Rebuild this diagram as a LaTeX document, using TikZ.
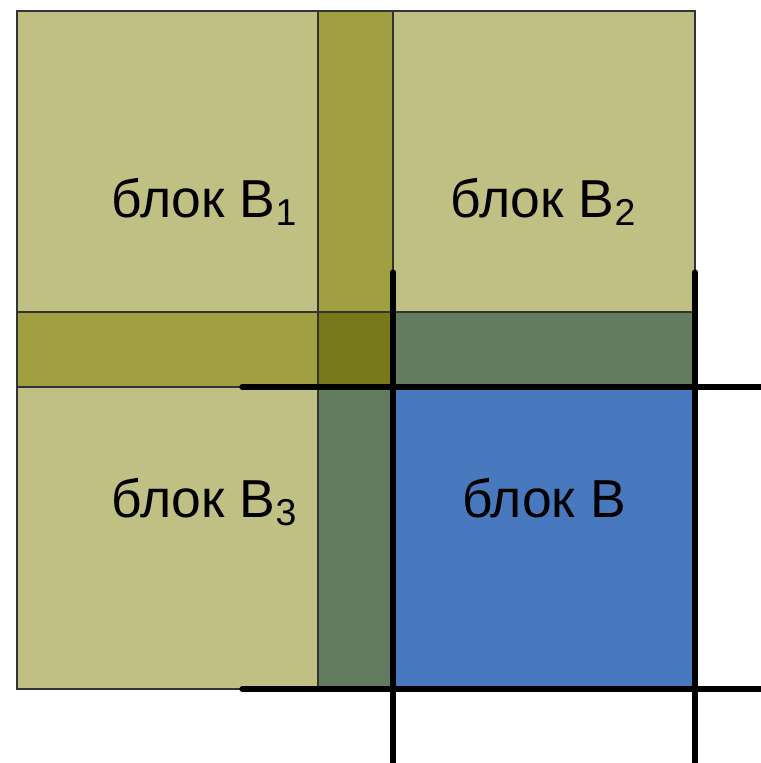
\documentclass[tikz,border=0pt]{standalone}
\usepackage{fontspec}
\setmainfont{Liberation Sans}
\definecolor{lightol}{RGB}{192, 192, 132}
\definecolor{midol}{RGB}{160, 160, 64}
\definecolor{darkol}{RGB}{120, 122, 26}
\definecolor{greyg}{RGB}{99, 124, 95}
\definecolor{blockblue}{RGB}{72, 120, 190}
\usetikzlibrary{positioning}

\begin{document}
\begin{tikzpicture}[
    x=0.01cm, y=-0.01cm,
    edge/.style={draw=black!80, line width=0.4pt},
    gridline/.style={line width=1.5pt, line cap=round},
    label/.style={font=\fontsize{15.2}{18}\selectfont, inner sep=0pt, anchor=base},
  ]
  \useasboundingbox (0,0) rectangle (761,763);

  % Light blocks
  \fill[lightol] (17,11) rectangle (318,312);
  \fill[lightol] (393,11) rectangle (695,312);
  \fill[lightol] (17,387) rectangle (318,689);

  % Overlap strips
  \fill[midol] (318,11) rectangle (393,312);
  \fill[midol] (17,312) rectangle (318,387);
  \fill[darkol] (318,312) rectangle (393,387);
  \fill[greyg] (393,312) rectangle (695,387);
  \fill[greyg] (318,387) rectangle (393,689);

  % Block B
  \fill[blockblue] (393,387) rectangle (695,689);

  % Thin outlines
  \draw[edge] (17,11) rectangle (695,689);
  \draw[edge] (318,11) -- (318,689);
  \draw[edge] (17,312) -- (695,312);
  \draw[edge] (393,11) -- (393,272);
  \draw[edge] (17,387) -- (242,387);

  % Grid
  \draw[gridline] (393,272) -- (393,763);
  \draw[gridline] (695,272) -- (695,763);
  \draw[gridline] (242,387) -- (761,387);
  \draw[gridline] (242,689) -- (761,689);

  % Labels
  \node[label] (b1) at (205,217) {блок B\textsubscript{1}};
  \node[label] (b2) at (544,217) {блок B\textsubscript{2}};
  \node[label] (b3) at (205,517) {блок B\textsubscript{3}};
  \node[label] (b) at (544,517) {блок B};

\end{tikzpicture}
\end{document}
